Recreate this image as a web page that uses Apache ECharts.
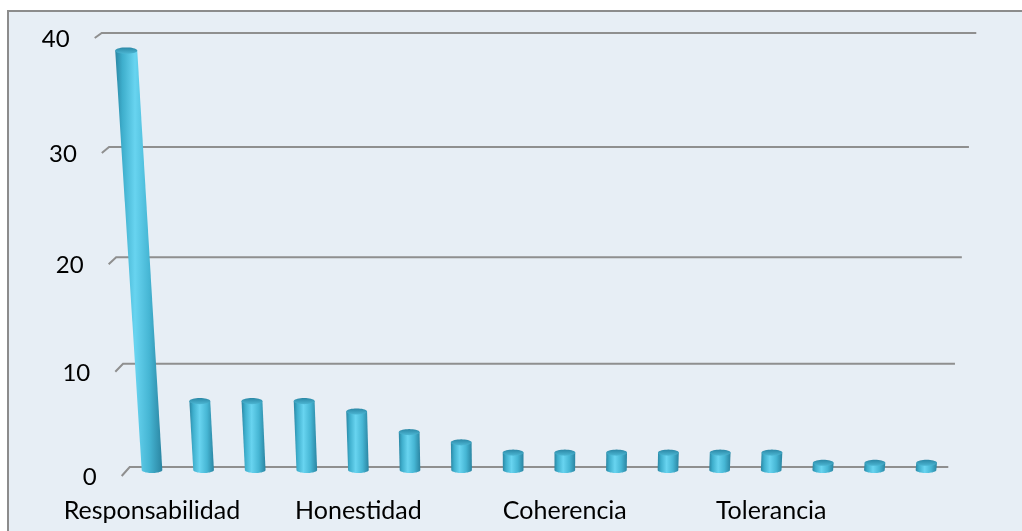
<!DOCTYPE html>
<html>
<head>
<meta charset="utf-8">
<script src="https://cdn.jsdelivr.net/npm/echarts@6/dist/echarts.min.js"></script>
<style>
  html, body { margin: 0; padding: 0; background: #ffffff; }
  #chart { width: 1022px; height: 531px; }
</style>
</head>
<body>
<div id="chart"></div>
<script>
// Values mentioned per category (frequency count)
const categories = [
  'Responsabilidad', 'Respeto', 'Solidaridad', 'Compromiso',
  'Honestidad', 'Puntualidad', 'Trabajo en equipo', 'Lealtad',
  'Coherencia', 'Justicia', 'Disciplina', 'Empatía',
  'Tolerancia', 'Humildad', 'Perseverancia', 'Gratitud'
];
const counts = [39, 7, 7, 7, 6, 4, 3, 2, 2, 2, 2, 2, 2, 1, 1, 1];
const yTicks = [0, 10, 20, 30, 40];
const yTickLabels = ['0', '10', '20', '30', '40'];

// Foreshortening of the tilted back wall: higher values sit closer to the eye
const DEPTH = 0.0016;
const persp = v => 1 / (1 - DEPTH * v);

const FAMILY = 'Lato, "Open Sans", sans-serif';
const FONT = '24px ' + FAMILY;

// Back wall gridlines with the short side-wall stub and the value labels
function renderWall(params, api) {
  const cs = params.coordSys;
  const v = api.value(1);
  const y0 = api.coord([0, 0])[1];
  const lin = y0 - api.coord([0, v])[1];
  const s = persp(v);
  const y = y0 - lin * s;
  const cx = cs.x + cs.width / 2;
  const half = (cs.width / 2 - 3.5) * s;
  const xl = cx - half, xr = cx + half;
  const dx = 8 - 0.025 * v, dy = 9 - 0.1 * v;
  return {
    type: 'group',
    children: [
      {
        type: 'polyline',
        shape: { points: [[xl - dx, y + dy], [xl, y], [xr, y]] },
        style: { stroke: '#8f8f8f', lineWidth: 2, fill: null }
      },
      {
        type: 'text',
        x: xl - dx - 25,
        y: y + dy + 1.5,
        style: {
          text: yTickLabels[params.dataIndex],
          font: FONT,
          fill: '#000000',
          align: 'right',
          verticalAlign: 'middle'
        }
      }
    ]
  };
}

function ellipsePoints(cx, cy, rx, ry, a0, a1, n) {
  const pts = [];
  for (let k = 0; k <= n; k++) {
    const t = a0 + (a1 - a0) * k / n;
    pts.push([cx + rx * Math.cos(t), cy + ry * Math.sin(t)]);
  }
  return pts;
}

// Cylinder bars drawn in the same perspective as the wall
function renderBar(params, api) {
  const cs = params.coordSys;
  const i = api.value(0), v = api.value(1);
  const base = api.coord([i, 0]);
  const lin = base[1] - api.coord([i, v])[1];
  const s = persp(v);
  const cx = cs.x + cs.width / 2;
  const band = api.size([1, 0])[0];
  const rx = band * 0.2, ry = 3;
  const bx = base[0], by = base[1] + 3;
  const tx = cx + (bx - cx) * s;
  const ty = base[1] + 6 - lin * s;
  const trx = rx * s, tryy = ry * s;

  const body = [[tx - trx, ty]]
    .concat(ellipsePoints(bx, by, rx, ry, Math.PI, 0, 24))
    .concat([[tx + trx, ty]]);
  const cap = ellipsePoints(tx, ty, trx, tryy, 0, Math.PI * 2, 36);

  return {
    type: 'group',
    children: [
      {
        type: 'polygon',
        shape: { points: body },
        style: {
          fill: new echarts.graphic.LinearGradient(0, 0, 1, 0, [
            { offset: 0, color: '#2a86a3' },
            { offset: 0.15, color: '#3eaecc' },
            { offset: 0.42, color: '#68d4f0' },
            { offset: 0.72, color: '#46b6d4' },
            { offset: 1, color: '#2a84a1' }
          ])
        }
      },
      {
        type: 'polygon',
        shape: { points: cap },
        style: {
          fill: new echarts.graphic.LinearGradient(0, 0, 0, 1, [
            { offset: 0, color: '#2b88a6' },
            { offset: 1, color: '#4cb6d3' }
          ])
        }
      }
    ]
  };
}

const chart = echarts.init(document.getElementById('chart'), null, { renderer: 'canvas' });
chart.setOption({
  animation: false,
  backgroundColor: '#ffffff',
  graphic: [{
    type: 'rect',
    z: -10,
    silent: true,
    shape: { x: 8, y: 11, width: 1100, height: 600 },
    style: { fill: '#e7eef5', stroke: '#8c8c8c', lineWidth: 2 }
  }],
  grid: { left: 126.2, right: 70.2, top: 60.8, bottom: 64 },
  xAxis: {
    type: 'category',
    data: categories,
    axisLine: { show: false },
    axisTick: { show: false },
    axisLabel: {
      interval: 3,
      margin: 31,
      color: '#000000',
      fontFamily: FAMILY,
      fontSize: 25
    }
  },
  yAxis: {
    type: 'value',
    min: 0,
    max: 40,
    interval: 10,
    axisLine: { show: false },
    axisTick: { show: false },
    axisLabel: { show: false },
    splitLine: { show: false }
  },
  series: [
    {
      type: 'custom',
      name: 'wall',
      silent: true,
      clip: false,
      renderItem: renderWall,
      encode: { x: 0, y: 1 },
      data: yTicks.map(v => [0, v]),
      z: 1
    },
    {
      type: 'custom',
      name: 'Frecuencia',
      clip: false,
      renderItem: renderBar,
      encode: { x: 0, y: 1 },
      data: counts.map((c, i) => [i, c]),
      z: 2
    }
  ]
});
</script>
</body>
</html>
